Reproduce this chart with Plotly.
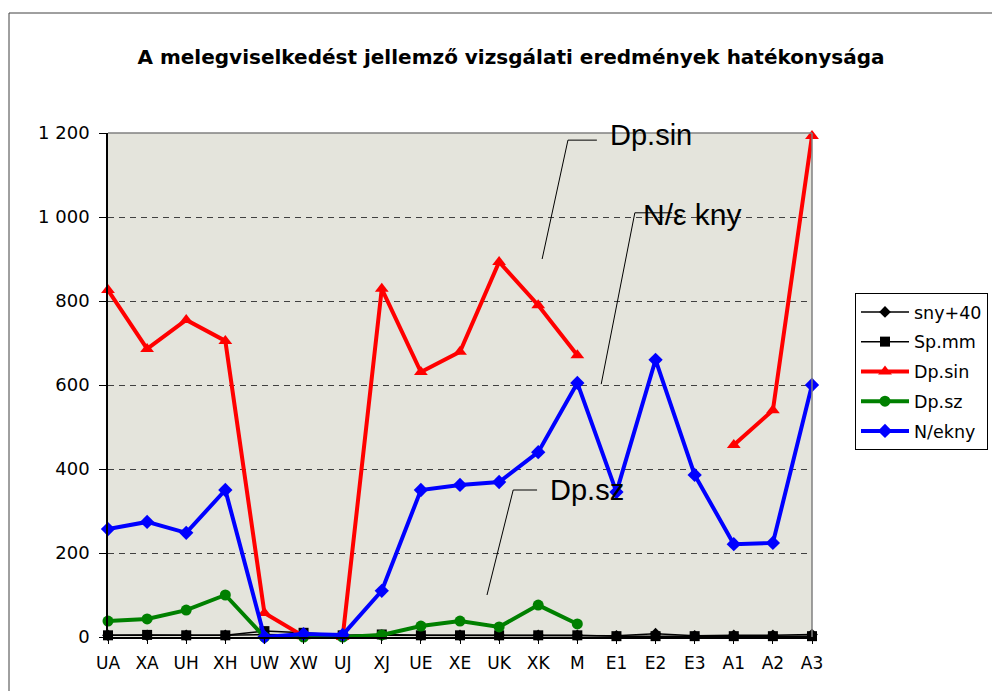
import plotly.graph_objects as go

categories = ["UA", "XA", "UH", "XH", "UW", "XW", "UJ", "XJ", "UE", "XE",
              "UK", "XK", "M", "E1", "E2", "E3", "A1", "A2", "A3"]

sny40 = [4, 4, 4, 4, 6, 5, 3, 4, 4, 4, 4, 4, 4, 3, 8, 3, 4, 4, 6]
sp_mm = [4, 5, 4, 4, 14, 10, 4, 6, 4, 4, 4, 4, 4, 2, 2, 2, 2, 2, 2]
dp_sin = [826, 686, 755, 705, 57, 2, 0, 829, 631, 679, 893, 790, 671,
          None, None, None, 457, 540, 1193]
dp_sz = [38, 43, 64, 100, 0, 0, 0, 5, 26, 38, 24, 76, 31,
         None, None, None, None, None, None]
n_ekny = [257, 274, 248, 350, 0, 7, 5, 110, 350, 362, 369, 440, 605,
          345, 660, 386, 221, 224, 600]

y_ticks = [0, 200, 400, 600, 800, 1000, 1200]
y_ticktext = ["0", "200", "400", "600", "800", "1 000", "1 200"]

FONT = "Liberation Sans, Arial, sans-serif"
WIDE = "DejaVu Sans, Verdana, sans-serif"

# figure-pixel geometry of the plot area (page has an 8px body offset)
L, T, R, B = 100, 125, 804, 629
PW, PH = R - L, B - T


def px(xf):
    return (xf - L) / PW


def py(yf):
    return (B - yf) / PH


fig = go.Figure()

series = [
    ("sny+40", sny40, "black", 1.5, "diamond", 9),
    ("Sp.mm", sp_mm, "black", 1.5, "square", 10),
    ("Dp.sin", dp_sin, "#ff0000", 4, "triangle-up", 12),
    ("Dp.sz", dp_sz, "#008000", 4, "circle", 11),
    ("N/ekny", n_ekny, "#0000ff", 4, "diamond", 11),
]
for name, vals, col, lw, sym, ms in series:
    fig.add_trace(go.Scatter(
        x=categories, y=vals, name=name, mode="lines+markers",
        line=dict(color=col, width=lw),
        marker=dict(symbol=sym, size=ms, color=col, line=dict(width=0)),
        connectgaps=False, cliponaxis=False, legendgroup=name,
    ))

# plot area top/right border (gray)
fig.add_shape(type="line", xref="paper", yref="paper", x0=0, x1=1, y0=1, y1=1,
              line=dict(color="#808080", width=1.5), layer="above")
fig.add_shape(type="line", xref="paper", yref="paper", x0=1, x1=1, y0=0, y1=1,
              line=dict(color="#808080", width=1.5), layer="above")

# outer chart frame
fig.add_shape(type="rect", xref="paper", yref="paper",
              x0=px(1), x1=px(1005), y0=py(700), y1=py(5),
              line=dict(color="#404040", width=1), fillcolor="rgba(0,0,0,0)",
              layer="below")

# leader lines for the labels
leaders = [
    [(11.10, 900), (11.76, 1183), (12.5, 1183)],
    [(12.61, 602), (13.47, 1010), (14.42, 1010)],
    [(9.69, 100), (10.36, 350), (10.97, 350)],
]
for pts in leaders:
    for (xa, ya), (xb, yb) in zip(pts[:-1], pts[1:]):
        fig.add_shape(type="line", xref="x", yref="y", x0=xa, y0=ya, x1=xb, y1=yb,
                      line=dict(color="black", width=1), layer="above")

labels = [("Dp.sin", 12.78, 1195, 29), ("N/ε kny", 13.62, 1005, 30), ("Dp.sz", 11.25, 350, 29)]
for txt, xl, yl, fs in labels:
    fig.add_annotation(x=xl, y=yl, xref="x", yref="y", text=txt, showarrow=False,
                       xanchor="left", yanchor="middle",
                       font=dict(family=FONT, size=fs, color="black"))

fig.update_layout(
    width=1000, height=691,
    margin=dict(l=L, r=1000 - R, t=T, b=691 - B),
    paper_bgcolor="white",
    plot_bgcolor="#e4e4dc",
    title=dict(text="<b>A melegviselkedést jellemző vizsgálati eredmények hatékonysága</b>",
               x=503 / 1000, xanchor="center", y=1 - 49 / 691, yanchor="middle",
               font=dict(family=WIDE, size=20, color="black")),
    font=dict(family=FONT, color="black"),
    legend=dict(x=px(847), y=py(285), xanchor="left", yanchor="top",
                bgcolor="white", bordercolor="black", borderwidth=1,
                font=dict(family=WIDE, size=17.5, color="black"),
                traceorder="grouped", tracegroupgap=4, itemwidth=48),
    showlegend=True,
)
fig.update_xaxes(
    type="category", categoryorder="array", categoryarray=categories,
    range=[0, 18], showgrid=False, showline=True, linecolor="black", linewidth=1.5,
    ticks="outside", ticklen=5, tickcolor="black", ticklabelstandoff=5,
    tickfont=dict(family=WIDE, size=17, color="black"), zeroline=False,
)
fig.update_yaxes(
    range=[0, 1200], tickvals=y_ticks, ticktext=y_ticktext,
    showgrid=True, gridcolor="#404040", gridwidth=1, griddash="6px,5px",
    showline=True, linecolor="black", linewidth=1.5,
    ticks="outside", ticklen=7, tickcolor="black", ticklabelstandoff=6,
    tickfont=dict(family=WIDE, size=18, color="black"), zeroline=False,
)

fig.write_html("out.html")
